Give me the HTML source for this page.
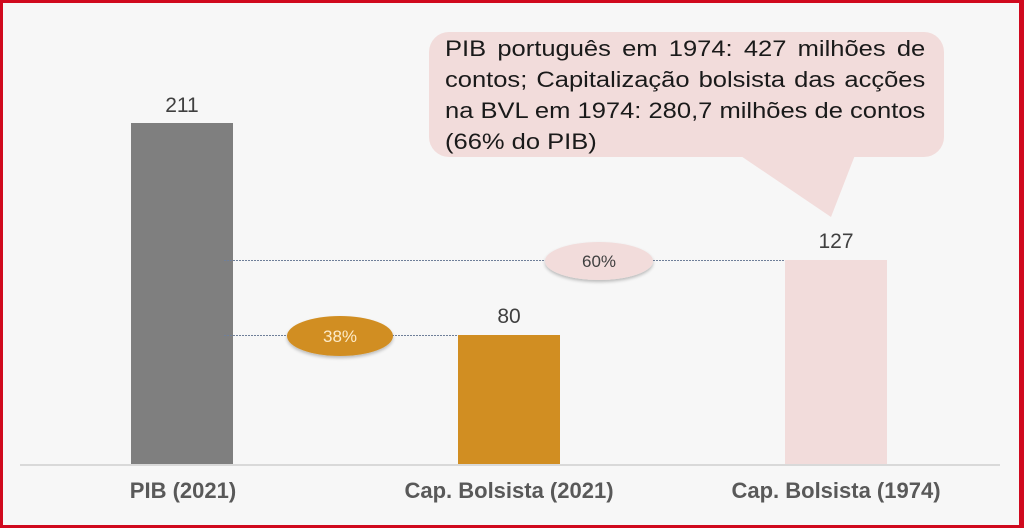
<!DOCTYPE html>
<html>
<head>
<meta charset="utf-8">
<style>
  html, body { margin: 0; padding: 0; background: #f7f7f7; }
  body { width: 1024px; height: 528px; overflow: hidden; position: relative; }
  svg { display: block; position: absolute; left: 0; top: 0; }
  text { font-family: "Liberation Sans", Arial, sans-serif; }
  .bt { position: absolute; left: 445px; top: 33px; width: 414px;
        transform: scaleX(1.16); transform-origin: 0 0;
        font-family: "Liberation Sans", Arial, sans-serif; font-size: 22px;
        line-height: 31px; color: #1a1a1a; }
  .bt div { white-space: nowrap; height: 31px; }
  .bt .j { text-align: justify; text-align-last: justify; white-space: normal; }
</style>
</head>
<body>
<svg width="1024" height="528" viewBox="0 0 1024 528" xmlns="http://www.w3.org/2000/svg">
  <defs>
    <filter id="sh" x="-20%" y="-30%" width="140%" height="170%">
      <feGaussianBlur in="SourceAlpha" stdDeviation="1.5"/>
      <feOffset dx="0" dy="2" result="b"/>
      <feComponentTransfer><feFuncA type="linear" slope="0.25"/></feComponentTransfer>
      <feMerge><feMergeNode/><feMergeNode in="SourceGraphic"/></feMerge>
    </filter>
  </defs>
  <rect x="0" y="0" width="1024" height="528" fill="#f7f7f7"/>

  <!-- bars -->
  <rect x="131" y="123" width="102" height="342" fill="#7f7f7f"/>
  <rect x="458" y="335" width="102" height="130" fill="#d18e22"/>
  <rect x="785" y="260" width="102" height="205" fill="#f2dcdb"/>

  <!-- axis -->
  <rect x="20" y="464" width="980" height="2" fill="#d9d9d9"/>

  <!-- dotted reference lines -->
  <line x1="224" y1="260.5" x2="785" y2="260.5" stroke="#6f7f99" stroke-width="1" stroke-dasharray="2,1"/>
  <line x1="224" y1="335.5" x2="458" y2="335.5" stroke="#6f7f99" stroke-width="1" stroke-dasharray="2,1"/>

  <!-- value labels -->
  <text x="182" y="112" font-size="21" fill="#404040" text-anchor="middle">211</text>
  <text x="509" y="323" font-size="21" fill="#404040" text-anchor="middle">80</text>
  <text x="836" y="248" font-size="21" fill="#404040" text-anchor="middle">127</text>

  <!-- ellipses -->
  <ellipse cx="599" cy="261" rx="54" ry="19" fill="#f2dcdb" filter="url(#sh)"/>
  <text x="599" y="267" font-size="17" fill="#404040" text-anchor="middle">60%</text>
  <ellipse cx="340" cy="336" rx="53" ry="20" fill="#d18e22" filter="url(#sh)"/>
  <text x="340" y="342" font-size="17" fill="#fdebc8" text-anchor="middle">38%</text>

  <!-- callout bubble -->
  <path d="M732 150 L857 150 L831 217 Z" fill="#f2dcdb"/>
  <rect x="429" y="32" width="515" height="125" rx="20" ry="20" fill="#f2dcdb"/>

  <!-- category labels -->
  <text x="183" y="498" font-size="22" font-weight="bold" fill="#595959" text-anchor="middle">PIB (2021)</text>
  <text x="509" y="498" font-size="22" font-weight="bold" fill="#595959" text-anchor="middle">Cap. Bolsista (2021)</text>
  <text x="836" y="498" font-size="22" font-weight="bold" fill="#595959" text-anchor="middle">Cap. Bolsista (1974)</text>

  <!-- red frame -->
  <rect x="0" y="0" width="1024" height="3" fill="#d0091e"/>
  <rect x="0" y="525" width="1024" height="3" fill="#d0091e"/>
  <rect x="0" y="0" width="3" height="528" fill="#d0091e"/>
  <rect x="1019" y="0" width="5" height="528" fill="#d0091e"/>
</svg>
<div class="bt">
  <div class="j">PIB português em 1974: 427 milhões de</div>
  <div class="j">contos; Capitalização bolsista das acções</div>
  <div class="j">na BVL em 1974: 280,7 milhões de contos</div>
  <div>(66% do PIB)</div>
</div>
</body>
</html>
